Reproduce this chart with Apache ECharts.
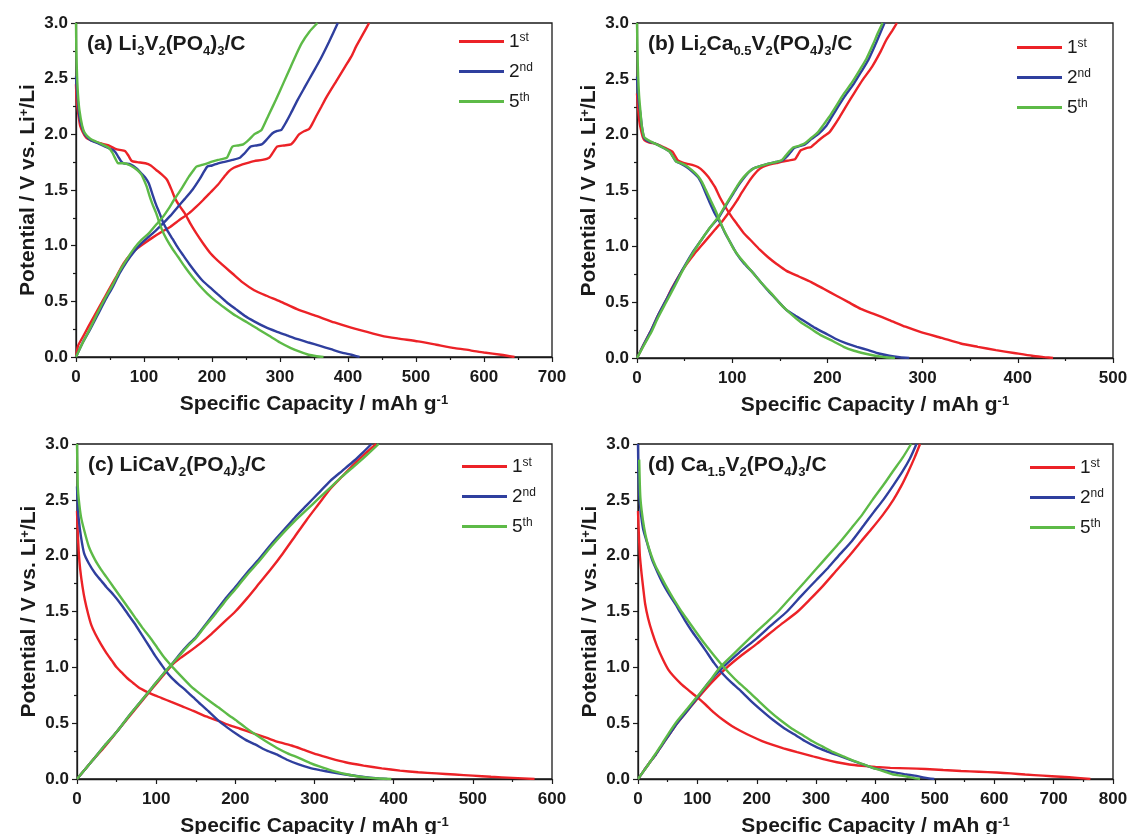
<!DOCTYPE html>
<html>
<head>
<meta charset="utf-8">
<title>Galvanostatic charge–discharge profiles</title>
<script src="https://cdn.jsdelivr.net/npm/echarts@6/dist/echarts.min.js"></script>
<style>
  html, body { margin: 0; padding: 0; background: #ffffff; }
  #chart { width: 1127px; height: 834px; }
</style>
</head>
<body>
<div id="chart"></div>
<script>
// ---- Cycle labels and axis ticks ----
const cycleNames = ['1st', '2nd', '5th'];
const yTicks = [0, 0.5, 1.0, 1.5, 2.0, 2.5, 3.0];
const xMaxA = 700, xMaxB = 500, xMaxC = 600, xMaxD = 800;

// ---- (a) Li3V2(PO4)3/C : [capacity mAh/g, potential V] ----
const a1Dis = [[0,2.45],[1,2.3],[3,2.2],[6,2.08],[10,2.02],[15,1.97],[21,1.95],[35,1.92],[48,1.90],[58,1.87],[64,1.86],[72,1.85],[77,1.81],[82,1.76],[90,1.75],[102,1.74],[110,1.72],[118,1.68],[126,1.64],[134,1.59],[140,1.51],[146,1.42],[153,1.35],[160,1.29],[168,1.20],[177,1.11],[187,1.02],[198,0.93],[213,0.84],[230,0.75],[245,0.67],[262,0.60],[280,0.55],[300,0.50],[325,0.43],[353,0.37],[380,0.31],[401,0.27],[425,0.23],[450,0.19],[475,0.165],[503,0.14],[530,0.11],[557,0.08],[580,0.06],[600,0.04],[625,0.02],[645,0]];
const a1Chg = [[0,0],[3,0.1],[10,0.18],[18,0.27],[27,0.37],[38,0.49],[48,0.6],[60,0.73],[70,0.84],[80,0.92],[91,0.98],[100,1.02],[112,1.07],[125,1.12],[139,1.17],[152,1.23],[166,1.29],[177,1.35],[187,1.41],[198,1.48],[209,1.55],[218,1.62],[225,1.67],[232,1.70],[240,1.72],[250,1.74],[262,1.76],[274,1.77],[284,1.79],[290,1.84],[296,1.89],[306,1.90],[316,1.91],[322,1.95],[328,2.0],[336,2.03],[343,2.05],[348,2.1],[353,2.16],[361,2.25],[369,2.34],[383,2.48],[396,2.61],[405,2.70],[412,2.79],[422,2.90],[431,3.0]];
const a2Dis = [[0,2.52],[2,2.35],[5,2.16],[9,2.06],[13,2.0],[21,1.95],[32,1.92],[43,1.89],[54,1.86],[58,1.84],[62,1.80],[66,1.76],[70,1.74],[80,1.73],[90,1.69],[96,1.65],[102,1.61],[107,1.56],[112,1.47],[117,1.38],[123,1.29],[128,1.21],[134,1.14],[142,1.06],[150,0.98],[158,0.91],[166,0.84],[176,0.76],[187,0.68],[198,0.62],[209,0.56],[222,0.49],[235,0.43],[248,0.37],[262,0.32],[278,0.27],[294,0.23],[310,0.195],[326,0.16],[342,0.13],[359,0.10],[375,0.07],[391,0.04],[405,0.02],[417,0]];
const a2Chg = [[0,0],[10,0.13],[21,0.25],[32,0.38],[43,0.51],[54,0.63],[64,0.75],[75,0.86],[86,0.95],[96,1.02],[107,1.08],[118,1.14],[128,1.20],[139,1.27],[150,1.35],[160,1.42],[171,1.50],[182,1.60],[193,1.71],[200,1.72],[209,1.74],[220,1.755],[230,1.77],[241,1.79],[248,1.83],[257,1.89],[265,1.90],[273,1.91],[280,1.95],[289,2.01],[296,2.03],[302,2.04],[309,2.11],[316,2.19],[326,2.31],[337,2.43],[348,2.55],[359,2.67],[372,2.83],[385,3.0]];
const a3Dis = [[0,3.0],[0.5,2.75],[1.6,2.52],[3,2.35],[5,2.22],[9,2.08],[13,2.01],[21,1.96],[35,1.92],[48,1.88],[51,1.86],[54,1.83],[58,1.78],[62,1.74],[70,1.74],[80,1.72],[90,1.68],[96,1.64],[100,1.59],[104,1.53],[108,1.45],[112,1.38],[118,1.29],[123,1.20],[128,1.12],[134,1.05],[142,0.97],[150,0.90],[160,0.81],[171,0.72],[182,0.64],[193,0.57],[206,0.50],[219,0.44],[235,0.37],[252,0.31],[268,0.25],[284,0.19],[300,0.13],[316,0.08],[330,0.045],[342,0.02],[354,0.007],[364,0]];
const a3Chg = [[0,0],[10,0.13],[21,0.26],[32,0.40],[43,0.53],[54,0.65],[64,0.77],[75,0.88],[86,0.98],[96,1.05],[107,1.11],[118,1.19],[128,1.26],[136,1.33],[144,1.41],[155,1.51],[166,1.62],[172,1.67],[177,1.71],[185,1.725],[193,1.74],[200,1.755],[209,1.77],[216,1.78],[222,1.79],[226,1.84],[230,1.89],[238,1.90],[246,1.91],[254,1.95],[262,2.00],[268,2.02],[273,2.04],[283,2.17],[294,2.31],[305,2.46],[316,2.61],[324,2.72],[332,2.82],[343,2.92],[355,3.0]];

// ---- (b) Li2Ca0.5V2(PO4)3/C ----
const b1Dis = [[0,2.37],[1,2.25],[2.5,2.12],[4,2.05],[6,1.98],[8,1.95],[13,1.93],[19,1.92],[25,1.90],[30,1.88],[37,1.85],[40,1.81],[43,1.77],[48,1.75],[52,1.74],[58,1.73],[64,1.71],[70,1.67],[75,1.62],[79,1.57],[82,1.53],[87,1.44],[93,1.35],[99,1.27],[105,1.20],[112,1.12],[120,1.05],[129,0.97],[138,0.90],[147,0.84],[157,0.78],[170,0.73],[183,0.68],[196,0.62],[209,0.56],[222,0.50],[235,0.44],[250,0.39],[265,0.34],[282,0.28],[299,0.23],[320,0.18],[340,0.13],[358,0.10],[377,0.07],[396,0.045],[415,0.02],[428,0.008],[437,0]];
const b1Chg = [[0,0],[7,0.12],[15,0.25],[22,0.38],[30,0.51],[37,0.63],[45,0.75],[52,0.84],[60,0.93],[67,1.0],[75,1.08],[82,1.15],[90,1.23],[97,1.31],[105,1.41],[110,1.48],[116,1.56],[121,1.62],[127,1.68],[132,1.71],[138,1.73],[146,1.745],[153,1.76],[160,1.77],[166,1.78],[169,1.82],[172,1.86],[178,1.88],[183,1.89],[187,1.92],[191,1.95],[197,1.99],[202,2.02],[207,2.08],[213,2.16],[220,2.26],[228,2.37],[237,2.49],[247,2.61],[255,2.73],[262,2.85],[268,2.93],[273,3.0]];
const b2Dis = [[0,2.52],[1,2.38],[2,2.28],[3.7,2.18],[5,2.08],[7.5,1.97],[12,1.94],[19,1.92],[26,1.89],[34,1.85],[38,1.80],[41,1.76],[46,1.74],[52,1.71],[58,1.67],[64,1.62],[68,1.56],[71,1.50],[76,1.40],[82,1.29],[88,1.20],[93,1.11],[99,1.02],[105,0.93],[112,0.85],[120,0.78],[129,0.69],[138,0.60],[148,0.51],[157,0.43],[166,0.38],[176,0.33],[187,0.27],[198,0.22],[209,0.17],[220,0.13],[231,0.10],[243,0.07],[254,0.04],[265,0.02],[276,0.007],[286,0]];
const b2Chg = [[0,0],[7,0.12],[15,0.25],[22,0.38],[30,0.51],[40,0.67],[49,0.81],[58,0.94],[67,1.05],[76,1.16],[86,1.26],[93,1.36],[101,1.47],[106,1.54],[112,1.61],[118,1.67],[123,1.70],[130,1.72],[138,1.74],[146,1.755],[153,1.77],[157,1.80],[161,1.84],[165,1.88],[170,1.895],[176,1.91],[183,1.96],[191,2.01],[198,2.07],[204,2.15],[209,2.22],[218,2.34],[228,2.46],[236,2.57],[243,2.67],[250,2.80],[255,2.90],[260,3.0]];
const b3Dis = [[0,3.0],[0.5,2.75],[1.2,2.52],[2.2,2.35],[3.7,2.2],[5,2.08],[7.5,1.98],[12,1.95],[19,1.92],[26,1.89],[34,1.85],[38,1.80],[41,1.76],[46,1.745],[52,1.72],[58,1.68],[64,1.63],[68,1.58],[72,1.51],[77,1.42],[82,1.33],[86,1.25],[91,1.15],[97,1.05],[102,0.97],[108,0.90],[115,0.83],[123,0.75],[132,0.66],[142,0.57],[151,0.48],[161,0.40],[172,0.32],[183,0.26],[194,0.20],[206,0.15],[217,0.10],[228,0.065],[239,0.04],[250,0.02],[261,0.007],[271,0]];
const b3Chg = [[0,0],[7,0.11],[15,0.23],[22,0.36],[30,0.49],[40,0.65],[49,0.80],[58,0.93],[67,1.05],[76,1.16],[86,1.27],[93,1.37],[101,1.48],[106,1.55],[112,1.62],[118,1.67],[123,1.70],[130,1.72],[138,1.74],[146,1.755],[152,1.77],[156,1.81],[160,1.85],[164,1.885],[170,1.90],[176,1.92],[183,1.97],[190,2.02],[196,2.09],[202,2.16],[208,2.24],[216,2.35],[226,2.47],[234,2.58],[241,2.68],[248,2.81],[253,2.91],[258,3.0]];

// ---- (c) LiCaV2(PO4)3/C ----
const c1Dis = [[0,2.4],[1,2.2],[2.3,2.02],[4,1.88],[7,1.72],[10,1.60],[14,1.48],[18,1.38],[23,1.30],[30,1.21],[37,1.13],[44,1.06],[50,1.00],[57,0.95],[64,0.90],[71,0.86],[78,0.82],[87,0.785],[96,0.755],[107,0.725],[119,0.69],[133,0.65],[147,0.61],[163,0.56],[179,0.52],[193,0.48],[206,0.45],[222,0.41],[239,0.37],[255,0.33],[271,0.30],[287,0.26],[303,0.22],[320,0.185],[339,0.15],[362,0.12],[385,0.095],[408,0.075],[431,0.06],[454,0.05],[477,0.04],[500,0.03],[523,0.02],[550,0.01],[578,0]];
const c1Chg = [[0,0],[10,0.085],[20,0.17],[35,0.29],[50,0.42],[65,0.55],[80,0.68],[95,0.81],[108,0.92],[120,1.02],[130,1.08],[140,1.13],[155,1.21],[170,1.30],[185,1.40],[200,1.50],[215,1.62],[230,1.75],[245,1.88],[260,2.02],[275,2.17],[290,2.32],[305,2.46],[320,2.60],[335,2.71],[350,2.82],[365,2.92],[378,3.0]];
const c2Dis = [[0,2.62],[1,2.45],[2.3,2.32],[5,2.17],[9,2.02],[15,1.93],[23,1.84],[30,1.78],[37,1.72],[46,1.65],[55,1.57],[64,1.48],[73,1.39],[82,1.29],[92,1.18],[99,1.10],[106,1.03],[112,0.97],[119,0.91],[128,0.85],[138,0.79],[147,0.73],[156,0.67],[167,0.60],[179,0.52],[190,0.46],[202,0.40],[213,0.35],[225,0.31],[238,0.26],[252,0.22],[266,0.17],[280,0.13],[294,0.10],[307,0.08],[322,0.06],[339,0.04],[355,0.025],[370,0.012],[382,0.005],[392,0]];
const c2Chg = [[0,0],[10,0.085],[20,0.17],[35,0.30],[50,0.42],[65,0.56],[80,0.69],[95,0.82],[110,0.95],[120,1.03],[130,1.12],[140,1.20],[150,1.27],[162,1.38],[175,1.50],[187,1.61],[200,1.72],[215,1.85],[230,1.97],[245,2.10],[260,2.22],[275,2.34],[290,2.45],[305,2.56],[320,2.67],[335,2.76],[350,2.85],[362,2.93],[372,3.0]];
const c3Dis = [[0,3.0],[0.5,2.8],[1,2.62],[2.3,2.5],[5,2.35],[9,2.23],[15,2.08],[23,1.96],[30,1.88],[37,1.81],[46,1.72],[55,1.63],[64,1.54],[73,1.45],[82,1.36],[92,1.27],[101,1.18],[110,1.09],[121,1.00],[133,0.91],[144,0.83],[156,0.76],[167,0.70],[179,0.64],[190,0.58],[202,0.52],[213,0.46],[225,0.40],[238,0.34],[252,0.28],[266,0.23],[280,0.19],[294,0.145],[307,0.11],[322,0.075],[339,0.045],[353,0.025],[367,0.012],[382,0.004],[397,0]];
const c3Chg = [[0,0],[10,0.085],[20,0.17],[35,0.30],[50,0.42],[65,0.56],[80,0.69],[95,0.82],[110,0.95],[120,1.03],[130,1.11],[140,1.19],[150,1.26],[162,1.37],[175,1.48],[187,1.59],[200,1.70],[215,1.83],[230,1.95],[245,2.08],[260,2.20],[275,2.31],[290,2.41],[305,2.51],[320,2.61],[335,2.71],[350,2.80],[366,2.90],[381,3.0]];

// ---- (d) Ca1.5V2(PO4)3/C ----
const d1Dis = [[0,2.4],[1,2.25],[3,2.01],[4.5,1.92],[6,1.84],[9,1.70],[12,1.57],[17,1.44],[24,1.31],[32,1.19],[42,1.07],[51,0.98],[60,0.92],[72,0.855],[84,0.80],[99,0.735],[114,0.665],[128,0.595],[143,0.53],[158,0.475],[173,0.43],[190,0.385],[209,0.34],[227,0.305],[245,0.275],[268,0.24],[293,0.205],[314,0.175],[335,0.15],[356,0.13],[377,0.118],[400,0.108],[425,0.10],[455,0.095],[484,0.09],[514,0.08],[544,0.072],[574,0.065],[604,0.058],[628,0.05],[652,0.04],[682,0.03],[712,0.02],[740,0.01],[762,0]];
const d1Chg = [[0,0],[10,0.075],[20,0.15],[30,0.22],[40,0.30],[53,0.40],[66,0.50],[83,0.61],[100,0.72],[125,0.87],[150,1.0],[175,1.11],[200,1.21],[235,1.36],[269,1.5],[290,1.61],[310,1.72],[333,1.86],[356,2.0],[376,2.13],[395,2.25],[413,2.37],[430,2.5],[443,2.62],[455,2.75],[466,2.88],[475,3.0]];
const d2Dis = [[0,3.0],[0.5,2.8],[1.5,2.6],[3,2.47],[6,2.33],[9,2.23],[15,2.12],[24,1.96],[33,1.85],[42,1.75],[54,1.64],[66,1.54],[78,1.43],[90,1.33],[102,1.24],[114,1.15],[128,1.04],[143,0.94],[158,0.86],[173,0.79],[190,0.70],[209,0.61],[227,0.53],[245,0.46],[263,0.40],[281,0.34],[299,0.29],[317,0.25],[335,0.215],[353,0.18],[374,0.14],[395,0.10],[416,0.075],[436,0.055],[452,0.04],[466,0.03],[480,0.015],[490,0.006],[499,0]];
const d2Chg = [[0,0],[10,0.075],[20,0.15],[30,0.22],[40,0.30],[53,0.40],[66,0.50],[83,0.61],[100,0.73],[120,0.87],[143,1.0],[170,1.13],[200,1.26],[225,1.38],[251,1.5],[275,1.64],[300,1.78],[320,1.89],[338,2.0],[360,2.13],[380,2.27],[397,2.39],[413,2.5],[430,2.63],[445,2.75],[458,2.87],[469,3.0]];
const d3Dis = [[2,2.86],[3,2.65],[4,2.52],[6,2.41],[10,2.26],[15,2.13],[22,2.01],[30,1.90],[39,1.81],[48,1.72],[60,1.61],[72,1.51],[84,1.42],[96,1.33],[111,1.22],[126,1.12],[140,1.03],[155,0.94],[170,0.86],[185,0.79],[203,0.70],[221,0.61],[239,0.53],[257,0.46],[275,0.40],[293,0.34],[311,0.29],[329,0.24],[347,0.20],[365,0.16],[383,0.125],[401,0.09],[416,0.065],[430,0.04],[443,0.03],[454,0.02],[465,0.008],[475,0]];
const d3Chg = [[0,0],[10,0.075],[20,0.15],[30,0.23],[40,0.31],[53,0.42],[66,0.52],[83,0.63],[100,0.74],[120,0.87],[138,1.0],[165,1.14],[190,1.27],[214,1.39],[236,1.5],[258,1.63],[280,1.76],[300,1.88],[320,2.0],[340,2.12],[360,2.25],[378,2.37],[395,2.5],[413,2.63],[430,2.76],[446,2.88],[460,3.0]];

// ---- Styling ----
const FONT = '"Liberation Sans", Arial, Helvetica, sans-serif';
const INK = '#1a1a1a';
const colors = ['#EC2227', '#2F3F9E', '#5DBA47'];

const panels = [
  { grid: { left: 76,  top: 23,  width: 476, height: 334 }, xMax: xMaxA,
    title: '(a) Li{sub|3}V{sub|2}(PO{sub|4}){sub|3}/C', titlePos: [87, 31], legendPos: [459, 32],
    curves: [[a1Dis, a1Chg], [a2Dis, a2Chg], [a3Dis, a3Chg]] },
  { grid: { left: 637, top: 23,  width: 476, height: 335 }, xMax: xMaxB,
    title: '(b) Li{sub|2}Ca{sub|0.5}V{sub|2}(PO{sub|4}){sub|3}/C', titlePos: [648, 31], legendPos: [1017, 38],
    curves: [[b1Dis, b1Chg], [b2Dis, b2Chg], [b3Dis, b3Chg]] },
  { grid: { left: 77,  top: 444, width: 475, height: 335 }, xMax: xMaxC,
    title: '(c) LiCaV{sub|2}(PO{sub|4}){sub|3}/C', titlePos: [88, 452], legendPos: [462, 457],
    curves: [[c1Dis, c1Chg], [c2Dis, c2Chg], [c3Dis, c3Chg]] },
  { grid: { left: 638, top: 444, width: 475, height: 335 }, xMax: xMaxD,
    title: '(d) Ca{sub|1.5}V{sub|2}(PO{sub|4}){sub|3}/C', titlePos: [648, 452], legendPos: [1030, 458],
    curves: [[d1Dis, d1Chg], [d2Dis, d2Chg], [d3Dis, d3Chg]] }
];

const axisLine = { show: true, onZero: false, lineStyle: { color: INK, width: 1.3 } };
const axisTick = { show: true, inside: false, length: 5, lineStyle: { color: INK, width: 1.2 } };
const minorTick = { show: true, splitNumber: 2, length: 3, lineStyle: { color: INK, width: 1.2 } };
const tickLabel = { color: INK, fontFamily: FONT, fontWeight: 'bold', fontSize: 17 };
const nameStyle = {
  color: INK, fontFamily: FONT, fontWeight: 'bold', fontSize: 21,
  rich: { sup: { color: INK, fontFamily: FONT, fontWeight: 'bold', fontSize: 13, verticalAlign: 'top' } }
};

const grid = [], xAxis = [], yAxis = [], title = [], legend = [], series = [];

panels.forEach((p, i) => {
  // Fixed plot rectangles; labels may run past the canvas edge
  grid.push(Object.assign({
    show: true, borderColor: INK, borderWidth: 1.3, backgroundColor: 'transparent',
    containLabel: false, outerBoundsMode: 'none'
  }, p.grid));

  xAxis.push({
    type: 'value', gridIndex: i, min: 0, max: p.xMax, interval: 100,
    axisLine, axisTick, minorTick, splitLine: { show: false },
    axisLabel: Object.assign({ margin: 12 }, tickLabel),
    name: 'Specific Capacity / mAh g{sup|-1}', nameLocation: 'middle', nameGap: 37,
    nameTextStyle: nameStyle
  });

  yAxis.push({
    type: 'value', gridIndex: i, min: 0, max: 3, interval: 0.5,
    axisLine, axisTick, minorTick, splitLine: { show: false },
    axisLabel: Object.assign({ margin: 8, formatter: v => v.toFixed(1) }, tickLabel),
    name: 'Potential / V vs. Li{sup|+}/Li', nameLocation: 'middle', nameGap: 37,
    nameTextStyle: nameStyle
  });

  // Panel caption with chemical-formula subscripts
  title.push({
    left: p.titlePos[0], top: p.titlePos[1], padding: 0,
    text: p.title,
    textStyle: {
      color: INK, fontFamily: FONT, fontWeight: 'bold', fontSize: 21, lineHeight: 27,
      rich: { sub: { color: INK, fontFamily: FONT, fontWeight: 'bold', fontSize: 13, verticalAlign: 'bottom' } }
    }
  });

  legend.push({
    orient: 'vertical', left: p.legendPos[0], top: p.legendPos[1], padding: 0,
    itemWidth: 45, itemHeight: 3, itemGap: 11, icon: 'rect',
    selectedMode: false,
    data: cycleNames,
    formatter: name => name.charAt(0) + '{sup|' + name.slice(1) + '}',
    textStyle: {
      color: INK, fontFamily: FONT, fontSize: 19,
      rich: { sup: { color: INK, fontFamily: FONT, fontSize: 12, verticalAlign: 'top' } }
    }
  });

  p.curves.forEach((pair, c) => {
    pair.forEach(data => {
      series.push({
        type: 'line', name: cycleNames[c], xAxisIndex: i, yAxisIndex: i,
        data, showSymbol: false, symbol: 'none', smooth: 0.2,
        color: colors[c],
        lineStyle: { color: colors[c], width: 2.4 },
        z: 2 + c
      });
    });
  });
});

const chart = echarts.init(document.getElementById('chart'), null, { renderer: 'canvas' });
chart.setOption({
  animation: false,
  backgroundColor: '#ffffff',
  textStyle: { fontFamily: FONT },
  title, legend, grid, xAxis, yAxis, series
});
</script>
</body>
</html>
